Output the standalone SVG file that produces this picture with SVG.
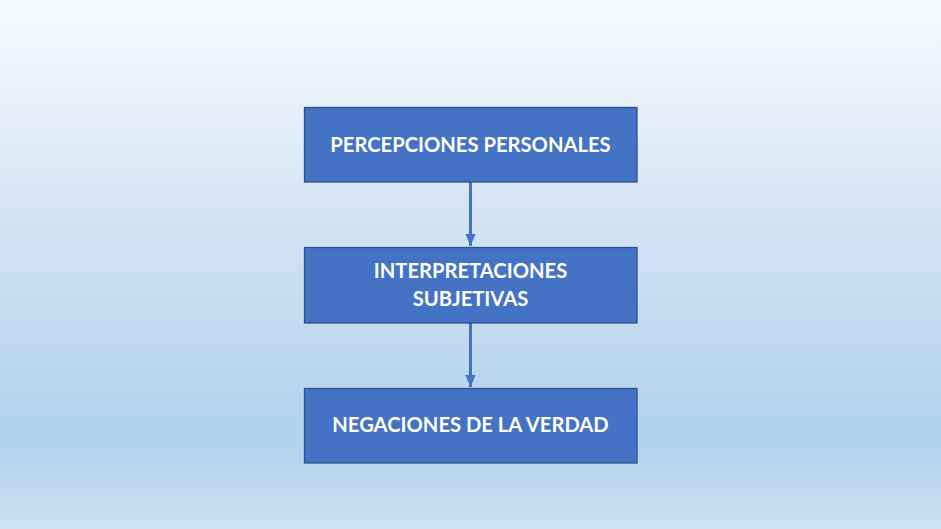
<svg xmlns="http://www.w3.org/2000/svg" width="941" height="529" viewBox="0 0 941 529">
<defs>
<linearGradient id="bg" x1="0" y1="0" x2="0" y2="1">
<stop offset="0" stop-color="#F8FBFE"/>
<stop offset="0.45" stop-color="#D0E2F3"/>
<stop offset="0.83" stop-color="#B2D1EC"/>
<stop offset="1" stop-color="#CDE1F1"/>
</linearGradient>
<marker id="ah" markerWidth="4" markerHeight="3.4" refX="4" refY="1.7" orient="auto" markerUnits="strokeWidth">
<path d="M0,0 L4,1.7 L0,3.4 Z" fill="#4472C4"/>
</marker>
<style>
.box{fill:#4472C4;stroke:#2F528F;stroke-width:1.3}
.lbl{font-family:Lato,"Open Sans","Liberation Sans",sans-serif;font-weight:bold;font-size:20.2px;fill:#FFFFFF;text-anchor:middle}
.conn{stroke:#4472C4;stroke-width:3;fill:none;marker-end:url(#ah)}
</style>
</defs>
<rect x="0" y="0" width="941" height="529" fill="url(#bg)"/>
<g id="connectors">
<line class="conn" x1="470.5" y1="182" x2="470.5" y2="246"/>
<line class="conn" x1="470.5" y1="323" x2="470.5" y2="387"/>
</g>
<g id="node1">
<rect class="box" x="304.5" y="107.5" width="332.5" height="74.5"/>
<text class="lbl" x="470.5" y="152">PERCEPCIONES PERSONALES</text>
</g>
<g id="node2">
<rect class="box" x="304.5" y="247.5" width="332.5" height="75.5"/>
<text class="lbl" x="470.5" y="278">INTERPRETACIONES</text>
<text class="lbl" x="470.5" y="306">SUBJETIVAS</text>
</g>
<g id="node3">
<rect class="box" x="304.5" y="388.5" width="332.5" height="74.5"/>
<text class="lbl" x="470.5" y="432">NEGACIONES DE LA VERDAD</text>
</g>
</svg>
